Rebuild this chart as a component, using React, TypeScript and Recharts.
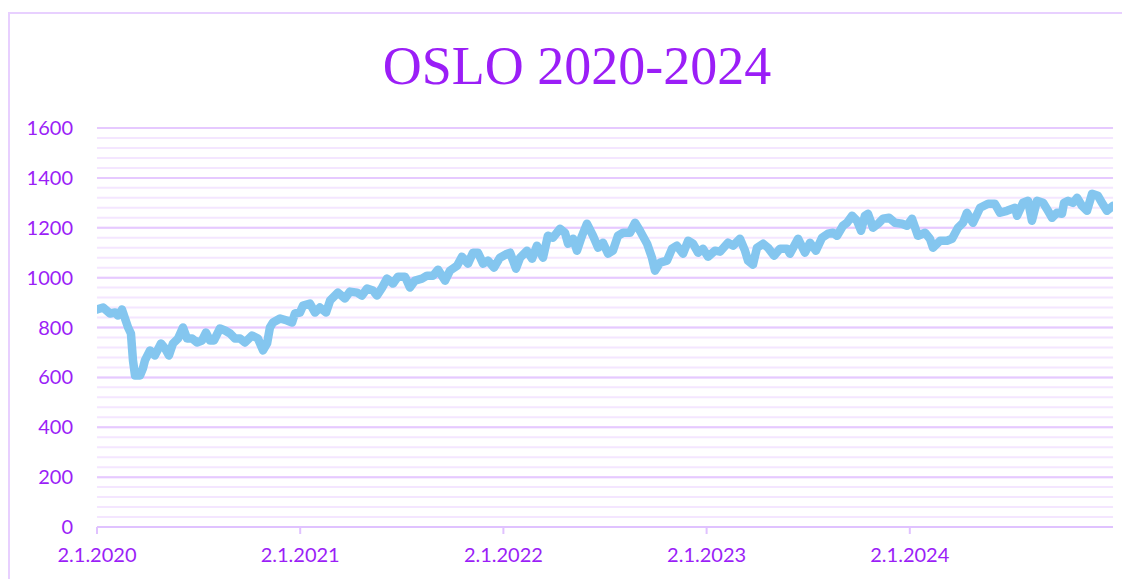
import React from 'react'
import { CartesianGrid, Line, LineChart, XAxis, YAxis } from 'recharts'

// time as fractional years from 2.1.2020
const years = [
  2020.0, 2020.03, 2020.064, 2020.089, 2020.103, 2020.123, 2020.138, 2020.153, 2020.167, 2020.177,
  2020.187, 2020.212, 2020.226, 2020.236, 2020.261, 2020.285, 2020.315, 2020.335, 2020.354, 2020.374,
  2020.399, 2020.423, 2020.443, 2020.468, 2020.492, 2020.517, 2020.536, 2020.556, 2020.576, 2020.605,
  2020.63, 2020.655, 2020.679, 2020.704, 2020.728, 2020.763, 2020.792, 2020.817, 2020.837, 2020.851,
  2020.866, 2020.901, 2020.935, 2020.96, 2020.974, 2020.999, 2021.014, 2021.048, 2021.073, 2021.097,
  2021.127, 2021.147, 2021.186, 2021.22, 2021.245, 2021.28, 2021.304, 2021.329, 2021.358, 2021.378,
  2021.403, 2021.427, 2021.457, 2021.481, 2021.516, 2021.54, 2021.565, 2021.599, 2021.624, 2021.654,
  2021.678, 2021.713, 2021.737, 2021.772, 2021.796, 2021.826, 2021.85, 2021.875, 2021.9, 2021.924,
  2021.954, 2021.983, 2022.018, 2022.033, 2022.062, 2022.082, 2022.116, 2022.141, 2022.165, 2022.195,
  2022.219, 2022.244, 2022.279, 2022.303, 2022.318, 2022.343, 2022.362, 2022.387, 2022.411, 2022.441,
  2022.466, 2022.49, 2022.515, 2022.539, 2022.564, 2022.589, 2022.623, 2022.648, 2022.672, 2022.707,
  2022.731, 2022.746, 2022.771, 2022.805, 2022.83, 2022.854, 2022.884, 2022.909, 2022.933, 2022.958,
  2022.982, 2023.007, 2023.041, 2023.066, 2023.105, 2023.13, 2023.164, 2023.189, 2023.204, 2023.228,
  2023.248, 2023.278, 2023.302, 2023.332, 2023.361, 2023.396, 2023.41, 2023.45, 2023.484, 2023.509,
  2023.538, 2023.568, 2023.597, 2023.622, 2023.642, 2023.671, 2023.691, 2023.716, 2023.74, 2023.76,
  2023.779, 2023.794, 2023.819, 2023.844, 2023.868, 2023.898, 2023.927, 2023.962, 2023.986, 2024.011,
  2024.04, 2024.075, 2024.099, 2024.114, 2024.149, 2024.183, 2024.208, 2024.237, 2024.262, 2024.281,
  2024.296, 2024.311, 2024.346, 2024.385, 2024.419, 2024.444, 2024.478, 2024.518, 2024.528, 2024.557,
  2024.582, 2024.601, 2024.626, 2024.656, 2024.68, 2024.7, 2024.724, 2024.749, 2024.759, 2024.779,
  2024.803, 2024.823, 2024.847, 2024.872, 2024.897, 2024.926, 2024.946, 2024.97, 2025.0,
]

const values = [
  872, 880, 856, 860, 848, 872, 836, 800, 776, 668,
  608, 608, 636, 668, 708, 688, 736, 716, 688, 736,
  756, 800, 756, 756, 740, 748, 780, 748, 748, 796,
  788, 776, 756, 756, 740, 768, 756, 708, 736, 800,
  820, 836, 828, 820, 856, 860, 888, 896, 860, 880,
  860, 908, 940, 916, 944, 940, 928, 956, 948, 928,
  960, 996, 976, 1004, 1004, 960, 988, 996, 1008, 1008,
  1032, 988, 1028, 1048, 1084, 1056, 1100, 1100, 1056, 1068,
  1040, 1080, 1096, 1100, 1036, 1080, 1108, 1076, 1128, 1080,
  1168, 1160, 1196, 1180, 1136, 1156, 1108, 1168, 1216, 1168,
  1120, 1140, 1096, 1108, 1168, 1180, 1180, 1220, 1188, 1136,
  1080, 1028, 1060, 1068, 1116, 1128, 1096, 1148, 1136, 1100,
  1116, 1084, 1108, 1104, 1140, 1128, 1156, 1108, 1068, 1052,
  1120, 1136, 1120, 1088, 1116, 1116, 1096, 1156, 1100, 1140,
  1108, 1160, 1176, 1180, 1168, 1208, 1220, 1248, 1228, 1188,
  1248, 1256, 1200, 1216, 1236, 1240, 1220, 1216, 1208, 1236,
  1168, 1180, 1156, 1120, 1148, 1148, 1156, 1200, 1220, 1260,
  1240, 1220, 1280, 1296, 1296, 1260, 1268, 1280, 1248, 1300,
  1308, 1228, 1308, 1300, 1268, 1240, 1260, 1256, 1300, 1308,
  1300, 1320, 1288, 1268, 1336, 1328, 1300, 1268, 1288,
]

const xTicks = [2020, 2021, 2022, 2023, 2024]
const yTicks = [0, 200, 400, 600, 800, 1000, 1200, 1400, 1600]
const minorTicks = Array.from({ length: 41 }, (_, i) => i * 40)

const data = years.map((t, i) => ({ t, value: values[i] }))

const purple = '#9b1ef7'

export default function App() {
  return (
    <div style={{ position: 'relative', width: 1122, height: 571, overflow: 'hidden', background: '#fff' }}>
      <div
        style={{
          position: 'absolute',
          left: 0,
          top: 4,
          width: 1300,
          height: 800,
          borderLeft: '2px solid #e8d0ff',
          borderTop: '2px solid #e8d0ff',
        }}
      />
      <div
        style={{
          position: 'absolute',
          left: 0,
          width: 1138,
          top: 28,
          textAlign: 'center',
          fontFamily: '"Liberation Serif", serif',
          fontSize: 54,
          lineHeight: '60px',
          color: purple,
        }}
      >
        OSLO 2020-2024
      </div>
      <LineChart
        width={1122}
        height={571}
        data={data}
        margin={{ top: 120, right: 17, bottom: 12, left: 0 }}
        style={{ position: 'absolute', left: 0, top: 0 }}
      >
        <CartesianGrid vertical={false} horizontalValues={minorTicks} stroke="#f4e6ff" strokeWidth={2} />
        <CartesianGrid vertical={false} horizontalValues={yTicks} stroke="#e6c9ff" strokeWidth={2} />
        <XAxis
          type="number"
          dataKey="t"
          domain={[2020, 2025]}
          ticks={xTicks}
          tickFormatter={(t) => `2.1.${t}`}
          height={40}
          tickSize={7}
          tickMargin={14}
          stroke="#e0c2ff"
          axisLine={{ stroke: '#e0c2ff', strokeWidth: 2 }}
          tickLine={{ stroke: '#e0c2ff', strokeWidth: 2 }}
          tick={{ fill: purple, fontSize: 20, fontFamily: 'Lato, sans-serif' }}
          interval={0}
          allowDataOverflow
        />
        <YAxis
          domain={[0, 1600]}
          ticks={yTicks}
          width={89}
          axisLine={false}
          tickLine={false}
          tickSize={0}
          tickMargin={24}
          interval={0}
          tick={{ fill: purple, fontSize: 20, fontFamily: 'Lato, sans-serif' }}
        />
        <Line
          type="linear"
          dataKey="value"
          stroke="#84c6ef"
          strokeWidth={8.5}
          strokeLinejoin="round"
          strokeLinecap="round"
          dot={false}
          activeDot={false}
          isAnimationActive={false}
        />
      </LineChart>
    </div>
  )
}
